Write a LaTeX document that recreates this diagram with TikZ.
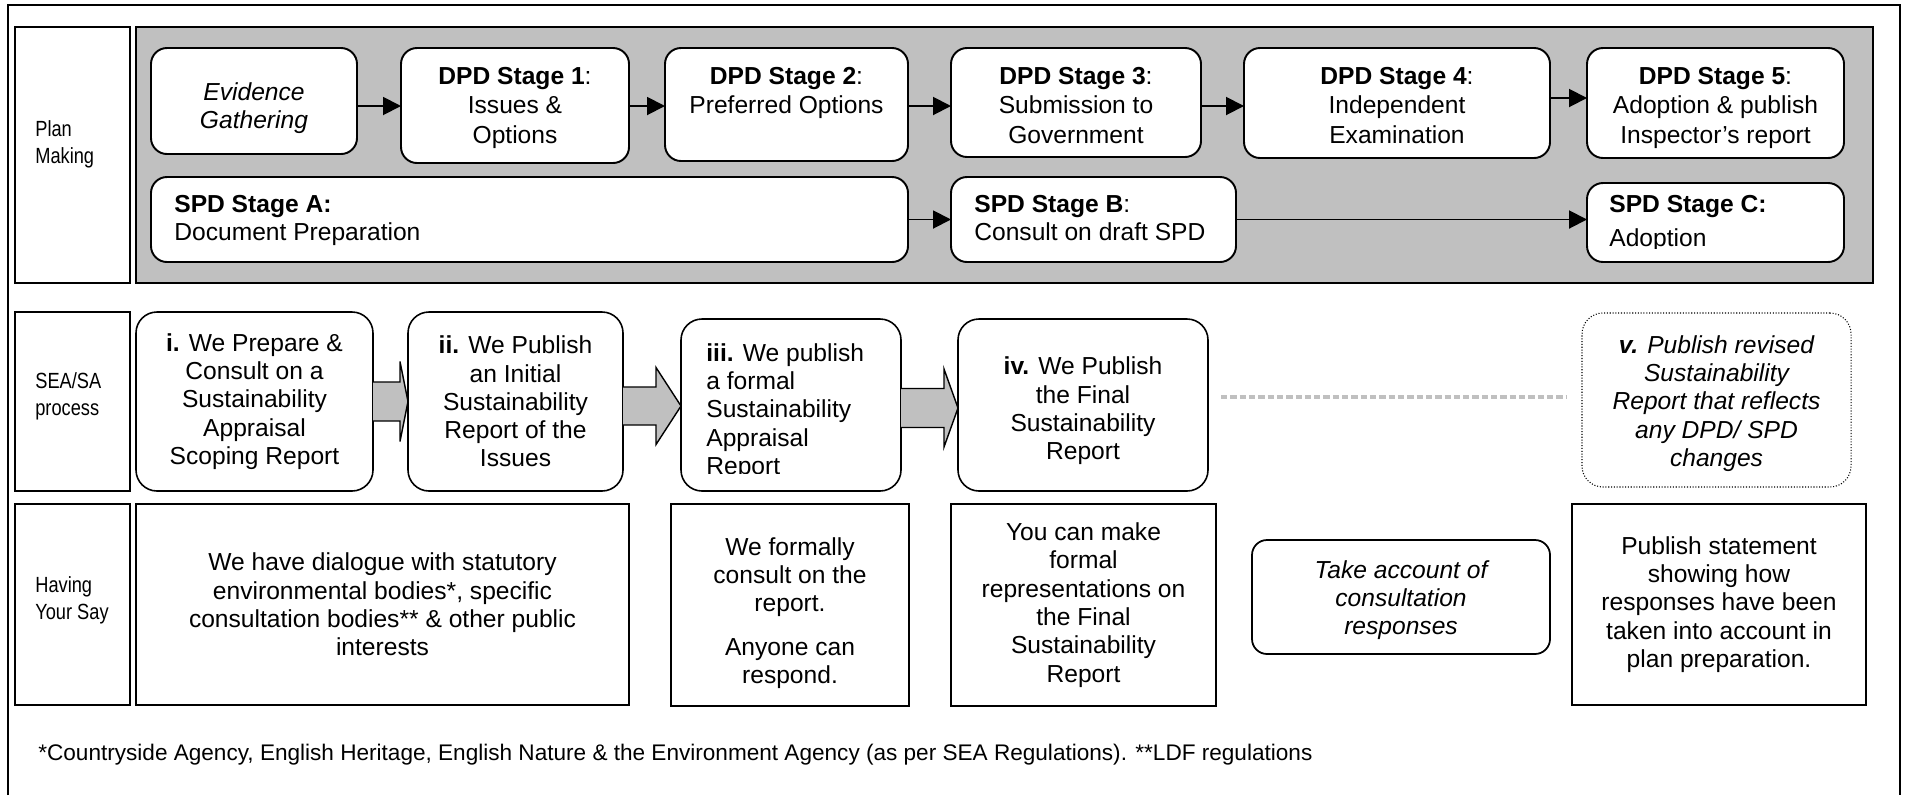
\documentclass[tikz,border=0pt]{standalone}
\usepackage{fontspec}
\setmainfont{Liberation Sans}
\newfontfamily\narrowfont[FakeStretch=0.83]{Liberation Sans}
\usetikzlibrary{arrows.meta,calc}
\definecolor{panelgray}{RGB}{192,192,192}
\newcommand\bodyfont{\fontsize{14}{16.1}\selectfont}
\newcommand\stagefont{\fontsize{14}{16.7}\selectfont}
\newcommand\labelfont{\narrowfont\fontsize{12.5}{15.3}\selectfont}
\newcommand\footfont{\fontsize{12.85}{15}\selectfont}
\newcommand\mkbox[7][]{\node[#1,minimum width={(#5-#3)*0.02cm},minimum height={(#6-#4)*0.02cm}] (#2) at ({(#3+#5)/2},{(#4+#6)/2}) {#7};}
\newcommand\mktext[5][]{\node[txt,#1] (#2) at ($(#3.center)+(0,#4)$) {#5};}
\tikzset{
 frame/.style={line width=1.1pt},
 bx/.style={draw, line width=1.1pt, fill=white, inner sep=0pt, outer sep=0pt, align=center, font=\bodyfont},
 panel/.style={bx, fill=panelgray},
 labbox/.style={bx},
 rbox/.style={bx, rounded corners=0.32cm},
 sbox/.style={bx, line width=0.9pt, rounded corners=0.42cm},
 vbox/.style={bx, line width=0.6pt, densely dotted, rounded corners=0.42cm, font=\bodyfont\itshape},
 hbox/.style={bx, line width=1pt, rounded corners=0.3cm, font=\bodyfont\itshape},
 labtxt/.style={inner sep=0pt, align=left, font=\labelfont},
 txt/.style={inner sep=0pt, align=center, font=\bodyfont},
 stxt/.style={inner sep=0pt, align=center, font=\stagefont},
 ltxt/.style={inner sep=0pt, align=left, font=\bodyfont},
 foot/.style={inner sep=0pt, font=\footfont},
 arr/.style={line width=1.1pt, -{Triangle[length=0.36cm,width=0.36cm]}},
 barrow/.style={fill=panelgray, draw=black, line width=0.8pt, line join=miter},
 graydash/.style={draw=panelgray, line width=2.3pt, dash pattern=on 3.6pt off 1.7pt},
}
\begin{document}
\begin{tikzpicture}[x=0.02cm,y=-0.02cm]
\useasboundingbox (0,0) rectangle (1909,795);
\draw[frame] (8,795) -- (8,5) -- (1900,5) -- (1900,795);

% ---------- Row 1: Plan Making ----------
\mkbox[panel]{panel}{136}{27}{1873}{283}{}
\mkbox[labbox]{lab1}{15}{27}{130}{283}{}
\node[labtxt,anchor=west] (lab1t) at (35,144) {Plan\\Making};

\mkbox[rbox]{evid}{151}{48}{357}{154}{}
\mkbox[rbox]{dpd1}{401}{48}{629}{163}{}
\mkbox[rbox]{dpd2}{665}{48}{908}{161}{}
\mkbox[rbox]{dpd3}{951}{48}{1201}{157}{}
\mkbox[rbox]{dpd4}{1244}{48}{1550}{158}{}
\mkbox[rbox]{dpd5}{1587}{48}{1844}{158}{}
\mkbox[rbox]{spdA}{151}{177}{908}{262}{}
\mkbox[rbox]{spdB}{951}{177}{1236}{262}{}
\mkbox[rbox]{spdC}{1587}{183}{1844}{262}{}

\mktext[font=\bodyfont\itshape]{evidt}{evid}{7}{Evidence\\Gathering}
\node[stxt,anchor=north] (dpd1t) at ($(dpd1.north)+(0,19)$) {\textbf{DPD Stage 1}:\\Issues \&\\Options};
\node[stxt,anchor=north] (dpd2t) at ($(dpd2.north)+(0,19)$) {\textbf{DPD Stage 2}:\\Preferred Options};
\node[stxt,anchor=north] (dpd3t) at ($(dpd3.north)+(0,19)$) {\textbf{DPD Stage 3}:\\Submission to\\Government};
\node[stxt,anchor=north] (dpd4t) at ($(dpd4.north)+(0,19)$) {\textbf{DPD Stage 4}:\\Independent\\Examination};
\node[stxt,anchor=north] (dpd5t) at ($(dpd5.north)+(0,19)$) {\textbf{DPD Stage 5}:\\Adoption \& publish\\Inspector’s report};
\node[ltxt,anchor=north west] (spdAt) at ($(spdA.north west)+(23,18)$) {\textbf{SPD Stage A:}\\Document Preparation};
\node[ltxt,anchor=north west] (spdBt) at ($(spdB.north west)+(23,18)$) {\textbf{SPD Stage B}:\\Consult on draft SPD};
\begin{scope}
\clip (spdC.north west) rectangle ($(spdC.north east)+(0,65)$);
\node[ltxt,anchor=north west] (spdCt) at ($(spdC.north west)+(22,12)$) {\textbf{SPD Stage C:}\\[3.1pt]Adoption};
\end{scope}

\coordinate (r106) at (0,106);
\coordinate (r98) at (0,98);
\draw[arr] (evid.east |- r106) -- (dpd1.west |- r106);
\draw[arr] (dpd1.east |- r106) -- (dpd2.west |- r106);
\draw[arr] (dpd2.east |- r106) -- (dpd3.west |- r106);
\draw[arr] (dpd3.east |- r106) -- (dpd4.west |- r106);
\draw[arr] (dpd4.east |- r98) -- (dpd5.west |- r98);
\draw[arr] (spdA.east) -- (spdB.west);
\draw[arr] (spdB.east) -- (spdC.west |- spdB.east);

% ---------- Row 2: SEA/SA process ----------
\mkbox[labbox]{lab2}{15}{312}{130}{491}{}
\node[labtxt,anchor=west] (lab2t) at (35,396) {SEA/SA\\process};
\mkbox[sbox]{bi}{136}{312}{373}{491}{\textbf{i.} We Prepare \&\\Consult on a\\Sustainability\\Appraisal\\Scoping Report}
\mkbox[sbox]{bii}{408}{312}{623}{491}{\textbf{ii.} We Publish\\an Initial\\Sustainability\\Report of the\\Issues}
\mkbox[sbox]{biii}{681}{319}{901}{491}{}
\mkbox[sbox]{biv}{958}{319}{1208}{491}{}
\mkbox[vbox]{bv}{1582}{313}{1851}{487}{}
\mktext{bivt}{biv}{6}{\textbf{iv.} We Publish\\the Final\\Sustainability\\Report}
\mktext[font=\bodyfont\itshape]{bvt}{bv}{3.5}{\textbf{v.} Publish revised\\Sustainability\\Report that reflects\\any DPD/ SPD\\changes}
\begin{scope}
\clip (biii.north west) rectangle ($(biii.north east)+(0,154)$);
\node[ltxt,anchor=north west] (biiit) at ($(biii.north west)+(25,24)$) {\textbf{iii.} We publish\\a formal\\Sustainability\\Appraisal\\Report};
\end{scope}

\coordinate (y1) at (0,401.5);
\coordinate (y2) at (0,406);
\coordinate (y3) at (0,408);
\filldraw[barrow] ($(bi.east |- y1)+(0,-19.5)$) -- ($(bii.west |- y1)+(-8,-19.5)$) -- ($(bii.west |- y1)+(-8,-40)$) -- (bii.west |- y1) -- ($(bii.west |- y1)+(-8,40)$) -- ($(bii.west |- y1)+(-8,19.5)$) -- ($(bi.east |- y1)+(0,19.5)$);
\filldraw[barrow] ($(bii.east |- y2)+(0,-19)$) -- ($(biii.west |- y2)+(-25,-19)$) -- ($(biii.west |- y2)+(-25,-38.5)$) -- (biii.west |- y2) -- ($(biii.west |- y2)+(-25,38.5)$) -- ($(biii.west |- y2)+(-25,19)$) -- ($(bii.east |- y2)+(0,19)$);
\filldraw[barrow] ($(biii.east |- y3)+(0,-19.5)$) -- ($(biv.west |- y3)+(-14,-19.5)$) -- ($(biv.west |- y3)+(-14,-39)$) -- (biv.west |- y3) -- ($(biv.west |- y3)+(-14,39)$) -- ($(biv.west |- y3)+(-14,19.5)$) -- ($(biii.east |- y3)+(0,19.5)$);

\coordinate (dA) at (1221,397);
\coordinate (dB) at (1566,397);
\draw[graydash] (dA) -- (dB);

% ---------- Row 3: Having Your Say ----------
\mkbox[labbox]{lab3}{15}{504}{130}{705}{}
\node[labtxt,anchor=west] (lab3t) at (35,600) {Having\\Your Say};
\mkbox[bx]{h1}{136}{504}{629}{705}{We have dialogue with statutory\\environmental bodies*, specific\\consultation bodies** \& other public\\interests}
\mkbox[bx]{h2}{671}{504}{909}{706}{}
\mktext{h2t}{h2}{8}{We formally\\consult on the\\report.\\[8.8pt]Anyone can\\respond.}
\mkbox[bx]{h3}{951}{504}{1216}{706}{You can make\\formal\\representations on\\the Final\\Sustainability\\Report}
\mkbox[hbox]{h4}{1252}{540}{1550}{654}{}
\mktext[font=\bodyfont\itshape]{h4t}{h4}{3}{Take account of\\consultation\\responses}
\mkbox[bx]{h5}{1572}{504}{1866}{705}{Publish statement\\showing how\\responses have been\\taken into account in\\plan preparation.}

\node[foot,anchor=west] (fn) at (38,755) {*Countryside Agency, English Heritage, English Nature \& the Environment Agency (as per SEA Regulations). **LDF regulations};
\end{tikzpicture}
\end{document}
